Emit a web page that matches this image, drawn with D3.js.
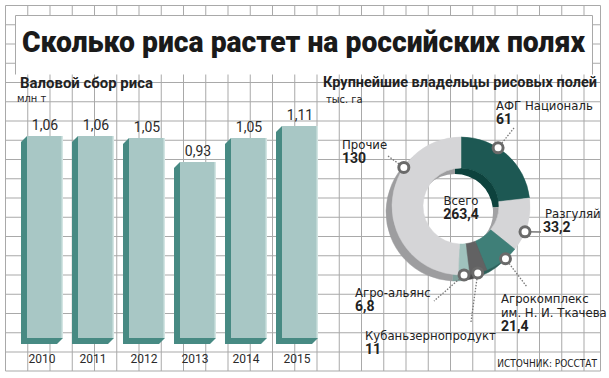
<!DOCTYPE html>
<html>
<head>
<meta charset="utf-8">
<script src="https://cdn.jsdelivr.net/npm/d3@7"></script>
<style>
  html, body { margin: 0; padding: 0; background: #fff; }
  svg { display: block; }
  .narrow { font-family: "Liberation Sans Narrow", "DejaVu Sans Condensed", "Roboto", sans-serif; }
</style>
</head>
<body>
<svg width="609" height="378"></svg>
<script>
// data ************************************************************
var years = ['2010', '2011', '2012', '2013', '2014', '2015'];
var harvest = [1.06, 1.06, 1.05, 0.93, 1.05, 1.11];
var harvestLabels = ['1,06', '1,06', '1,05', '0,93', '1,05', '1,11'];

var owners = ['АФГ Националь', 'Разгуляй', 'Агрокомплекс им. Н. И. Ткачева', 'Кубаньзернопродукт', 'Агро-альянс', 'Прочие'];
var areas = [61, 33.2, 21.4, 11, 6.8, 130];
var areaLabels = ['61', '33,2', '21,4', '11', '6,8', '130'];
var totalLabel = '263,4';

// layout ***********************************************************
var svg = d3.select('svg');
var gridColor = '#a9a9a9';

// grid
var gx0 = 5.5, gx1 = 600.5, gy0 = 5.5, gy1 = 371;
function drawGrid(g, edges) {
    var xs = d3.range(gx0, gx1, 22.25), ys = d3.range(gy0, gy1, 19.25);
    if (edges) { xs.push(gx1); ys.push(gy1); }
    xs.forEach(function (gx) {
        g.append('line').attr('x1', gx).attr('x2', gx).attr('y1', gy0).attr('y2', gy1);
    });
    ys.forEach(function (gy) {
        g.append('line').attr('x1', gx0).attr('x2', gx1).attr('y1', gy).attr('y2', gy);
    });
}
drawGrid(svg.append('g').attr('stroke', gridColor).attr('stroke-width', 1), true);

// title box
svg.append('rect').attr('x', 15.5).attr('y', 15.5).attr('width', 577).attr('height', 59).attr('fill', '#fff');
svg.append('path').attr('d', 'M15.5,74.5V15.5H592.5V74.5').attr('fill', 'none').attr('stroke', gridColor);
svg.append('text')
    .attr('x', 22).attr('y', 52)
    .attr('textLength', 563).attr('lengthAdjust', 'spacingAndGlyphs')
    .style('font-family', 'Roboto, sans-serif').style('font-weight', 900).style('font-size', '29px')
    .attr('fill', '#1a1a1a')
    .text('Сколько риса растет на российских полях');

function heading(x, y, w, t) {
    svg.append('text').attr('x', x).attr('y', y)
        .attr('textLength', w).attr('lengthAdjust', 'spacingAndGlyphs')
        .style('font-family', 'Roboto, sans-serif').style('font-weight', 700).style('font-size', '15px')
        .attr('fill', '#222').text(t);
}
function small(x, y, t) {
    svg.append('text').attr('x', x).attr('y', y).attr('class', 'narrow')
        .style('font-size', '11px').attr('fill', '#222').text(t);
}
heading(20, 88, 133, 'Валовой сбор риса');
small(17, 102, 'млн т');
heading(323, 87, 274, 'Крупнейшие владельцы рисовых полей');
small(326, 103, 'тыс. га');

// bars *************************************************************
var x = d3.scaleBand().domain(years).range([27, 318]).paddingInner(0.294).paddingOuter(0);
var y = d3.scaleLinear().domain([0.05, 1.06]).range([338, 136]);
var depth = 6;

var bars = svg.append('g').selectAll('g').data(years).enter().append('g');
bars.append('path')
    .attr('fill', '#478a83')
    .attr('d', function (d, i) {
        var x0 = x(d), x1 = x(d) + x.bandwidth(), top = y(harvest[i]), bot = y.range()[0];
        return 'M' + x0 + ',' + top + 'L' + (x0 - depth) + ',' + (top + depth) +
            'L' + (x0 - depth) + ',' + (bot + depth) + 'L' + (x1 - depth) + ',' + (bot + depth) +
            'L' + x1 + ',' + bot + 'Z';
    });
bars.append('rect')
    .attr('fill', '#a8c7c5')
    .attr('x', function (d) { return x(d); })
    .attr('y', function (d, i) { return y(harvest[i]); })
    .attr('width', x.bandwidth())
    .attr('height', function (d, i) { return y.range()[0] - y(harvest[i]); });
bars.append('line')
    .attr('stroke', '#d3e5e3').attr('stroke-width', 1.5)
    .attr('x1', function (d) { return x(d) + x.bandwidth() - 0.75; })
    .attr('x2', function (d) { return x(d) + x.bandwidth() - 0.75; })
    .attr('y1', function (d, i) { return y(harvest[i]); })
    .attr('y2', y.range()[0]);
bars.append('text')
    .attr('x', function (d) { return x(d) + x.bandwidth() / 2; })
    .attr('y', function (d, i) { return y(harvest[i]) - 6; })
    .attr('text-anchor', 'middle')
    .style('font-family', 'Roboto, sans-serif').style('font-size', '14px').attr('fill', '#2a2a2a')
    .text(function (d, i) { return harvestLabels[i]; });
bars.append('text')
    .attr('x', function (d) { return x(d) + x.bandwidth() / 2 - depth / 2; })
    .attr('y', 363)
    .attr('text-anchor', 'middle')
    .style('font-family', 'Roboto, sans-serif').style('font-size', '12px').attr('fill', '#2a2a2a')
    .text(function (d) { return d; });

// donut ************************************************************
var cx = 461, cy = 206, R = 69, r = 38, shift = 6;
var fronts = ['#1d5853', '#d5d5d7', '#3f7f78', '#626263', '#a0c2bd', '#d5d5d7'];
var backs = ['#0d423d', '#a2a2a4', '#2d605a', '#4a4a4b', '#7fa19c', '#9d9d9f'];
var markerAt = [0.39, 0.63, 0.38, 0.53, 0.48, 0.685];

var pie = d3.pie().sort(null)(areas);
var arc = d3.arc().innerRadius(r).outerRadius(R);

svg.append('clipPath').attr('id', 'hole').append('circle').attr('cx', cx).attr('cy', cy).attr('r', r);

var donut = svg.append('g');
// shadow ring, shifted down-left
donut.append('g').attr('transform', 'translate(' + (cx - shift) + ',' + (cy + shift) + ')')
    .selectAll('path').data(pie).enter().append('path')
    .attr('d', arc).attr('fill', function (d, i) { return backs[i]; })
    .attr('stroke', function (d, i) { return backs[i]; }).attr('stroke-width', 0.5);

// the hole: white with grid, and the inner wall of the shadow ring
var hole = donut.append('g').attr('clip-path', 'url(#hole)');
hole.append('circle').attr('cx', cx).attr('cy', cy).attr('r', r).attr('fill', '#fff');
drawGrid(hole.append('g').attr('stroke', gridColor).attr('stroke-width', 1), false);
hole.append('g').attr('transform', 'translate(' + (cx - shift) + ',' + (cy + shift) + ')')
    .selectAll('path').data(pie).enter().append('path')
    .attr('d', d3.arc().innerRadius(r).outerRadius(R + 20))
    .attr('fill', function (d, i) { return backs[i]; });

// front ring
donut.append('g').attr('transform', 'translate(' + cx + ',' + cy + ')')
    .selectAll('path').data(pie).enter().append('path')
    .attr('d', arc).attr('fill', function (d, i) { return fronts[i]; })
    .attr('stroke', function (d, i) { return fronts[i]; }).attr('stroke-width', 0.5);

svg.append('text').attr('x', cx).attr('y', cy - 1).attr('text-anchor', 'middle').attr('class', 'narrow')
    .style('font-size', '13px').attr('fill', '#222').text('Всего');
svg.append('text').attr('x', cx).attr('y', cy + 13).attr('text-anchor', 'middle')
    .style('font-family', 'Roboto, sans-serif').style('font-weight', 700).style('font-size', '14px')
    .attr('fill', '#222').text(totalLabel);

// callouts
var callouts = [
    { lines: ['АФГ Националь'], tx: 496, ty: 110, ex: 514, ey: 128, dash: true },
    { lines: ['Разгуляй'], tx: 545, ty: 218, ex: 541, ey: 232, dash: false, valueDx: -2 },
    { lines: ['Агрокомплекс', 'им. Н. И. Ткачева'], tx: 501, ty: 303, ex: 527, ey: 287, dash: true },
    { lines: ['Кубаньзернопродукт'], tx: 365, ty: 340, ex: 471, ey: 322, dash: true },
    { lines: ['Агро-альянс'], tx: 355, ty: 297, ex: 434, ey: 301, dash: true },
    { lines: ['Прочие'], tx: 342, ty: 149, ex: 388, ey: 156, dash: true }
];

pie.forEach(function (d, i) {
    var c = callouts[i];
    var a = d.startAngle + markerAt[i] * (d.endAngle - d.startAngle);
    var mx = cx + R * Math.sin(a), my = cy - R * Math.cos(a);
    svg.append('line')
        .attr('x1', mx).attr('y1', my).attr('x2', c.ex).attr('y2', c.ey)
        .attr('stroke', '#777').attr('stroke-width', c.dash ? 1.3 : 1.5)
        .attr('stroke-dasharray', c.dash ? '1.5,1.5' : null);
    svg.append('circle').attr('cx', mx).attr('cy', my).attr('r', 5)
        .attr('fill', '#fff').attr('stroke', '#6a6a6a').attr('stroke-width', 3);
    c.lines.forEach(function (t, k) {
        svg.append('text').attr('x', c.tx).attr('y', c.ty + k * 14).attr('class', 'narrow')
            .style('font-size', '13px').attr('fill', '#222').text(t);
    });
    svg.append('text').attr('x', c.tx + (c.valueDx || 0)).attr('y', c.ty + c.lines.length * 14)
        .style('font-family', 'Roboto, sans-serif').style('font-weight', 700).style('font-size', '14px')
        .attr('fill', '#222').text(areaLabels[i]);
});

svg.append('text').attr('x', 597).attr('y', 367).attr('text-anchor', 'end').attr('class', 'narrow')
    .style('font-size', '10px').attr('fill', '#222').text('ИСТОЧНИК: РОССТАТ');
</script>
</body>
</html>
